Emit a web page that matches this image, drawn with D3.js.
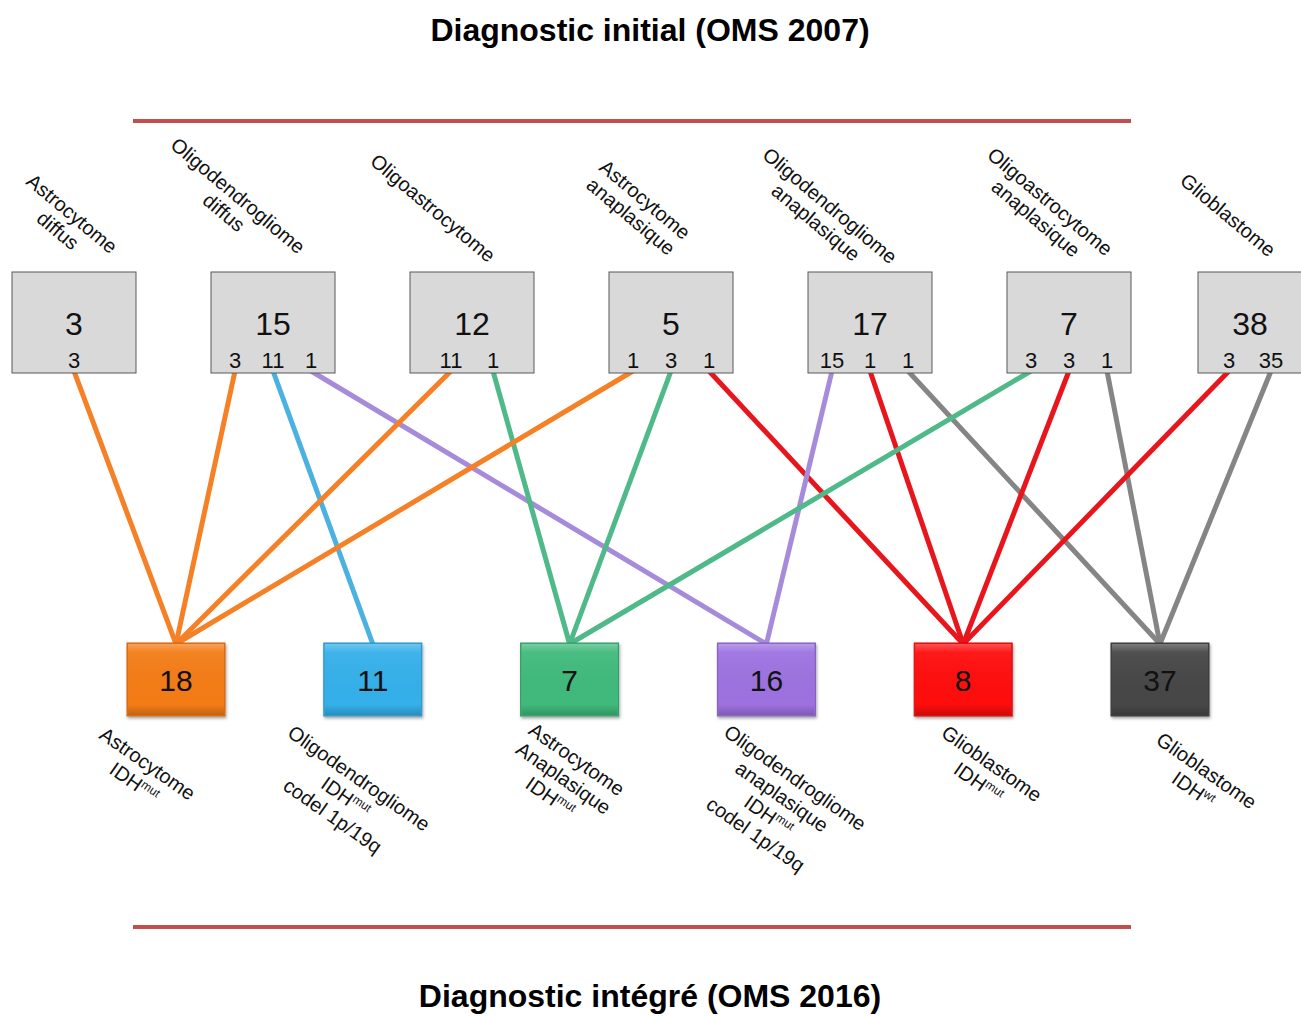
<!DOCTYPE html>
<meta charset="utf-8">
<style>
body { margin: 0; background: #fff; }
svg { display: block; font-family: "Liberation Sans", Arial, sans-serif; }
.title { font-weight: bold; font-size: 32px; fill: #000; }
.rule { stroke: #c0504d; stroke-width: 4px; }
.topbox { fill: #d9d9d9; stroke: #595959; stroke-width: 1px; }
.big { font-size: 32px; fill: #111; }
.small { font-size: 22px; fill: #111; }
.lab { font-size: 20px; fill: #111; }
.flow { fill: none; stroke-width: 5px; }
</style>
<body>
<script src="https://d3js.org/d3.v7.min.js"></script>
<script>

// ---- data ----
var titleTop = "Diagnostic initial (OMS 2007)";
var titleBottom = "Diagnostic intégré (OMS 2016)";

var topNames = [
  ["Astrocytome", "diffus"],
  ["Oligodendrogliome", "diffus"],
  ["Oligoastrocytome"],
  ["Astrocytome", "anaplasique"],
  ["Oligodendrogliome", "anaplasique"],
  ["Oligoastrocytome", "anaplasique"],
  ["Glioblastome"]
];
var topTotals = [3, 15, 12, 5, 17, 7, 38];

var bottomNames = [
  ["Astrocytome", "IDH^mut"],
  ["Oligodendrogliome", "IDH^mut", "codel 1p/19q"],
  ["Astrocytome", "Anaplasique", "IDH^mut"],
  ["Oligodendrogliome", "anaplasique", "IDH^mut", "codel 1p/19q"],
  ["Glioblastome", "IDH^mut"],
  ["Glioblastome", "IDH^wt"]
];
var bottomTotals = [18, 11, 7, 16, 8, 37];

// flows: initial diagnosis index -> integrated diagnosis index, count
var flowFrom  = [0, 1, 1, 1, 2, 2, 3, 3, 3, 4, 4, 4, 5, 5, 5, 6, 6];
var flowTo    = [0, 0, 1, 3, 0, 2, 0, 2, 4, 3, 4, 5, 2, 4, 5, 4, 5];
var flowCount = [3, 3, 11, 1, 11, 1, 1, 3, 1, 15, 1, 1, 3, 3, 1, 3, 35];

// ---- layout / style ----
var W = 1301, H = 1017;
var boxFill  = ["#f47b12", "#34b0ea", "#3fba7c", "#9d72e0", "#ff1010", "#474747"];
var flowCol  = ["#f58025", "#4ab1e1", "#4fb98a", "#a78bdb", "#e8161c", "#858585"];
var topLabelOff = [[-9, 222], [-42, 204], [-39, 208], [-33, 208], [-47, 214], [-26, 210], [-22, 215]];
var botLabelOff = [[-35, 773], [-27, 797], [-6, 778], [9, 806], [22, 773], [40, 780]];

var topY = 272, topH = 101, topW = 124;
var botY = 643, botH = 73, botW = 98;

var xTop = d3.scalePoint().domain(d3.range(topNames.length)).range([74, 1268]);
var xBot = d3.scalePoint().domain(d3.range(bottomNames.length)).range([176, 1160]);

// last top box is pushed against the page edge
function topCx(i) { return Math.min(xTop(i), W - 51); }
function topBw(i) { return xTop(i) > W - 51 ? 104 : topW; }

var flows = flowFrom.map(function(s, i) {
  return {source: s, target: flowTo[i], value: flowCount[i]};
});
// position of each outgoing count inside its source box
d3.groups(flows, function(d) { return d.source; }).forEach(function(g) {
  var n = g[1].length;
  var r = n === 1 ? [0, 0] : n === 2 ? [-21, 21] : [-38, 38];
  var sub = d3.scalePoint().domain(d3.range(n)).range(r);
  g[1].forEach(function(d, k) { d.dx = sub(k); });
});

var svg = d3.select("body").append("svg")
    .attr("width", W)
    .attr("height", H);

var defs = svg.append("defs");
var grad = defs.append("linearGradient").attr("id", "bevel")
    .attr("x1", 0).attr("y1", 0).attr("x2", 0).attr("y2", 1);
grad.append("stop").attr("offset", "0").attr("stop-color", "#fff").attr("stop-opacity", 0.28);
grad.append("stop").attr("offset", "0.12").attr("stop-color", "#fff").attr("stop-opacity", 0.05);
grad.append("stop").attr("offset", "0.85").attr("stop-color", "#000").attr("stop-opacity", 0.0);
grad.append("stop").attr("offset", "1").attr("stop-color", "#000").attr("stop-opacity", 0.2);
var sh = defs.append("filter").attr("id", "shadow")
    .attr("x", "-10%").attr("y", "-10%").attr("width", "130%").attr("height", "140%");
sh.append("feDropShadow").attr("dx", 1).attr("dy", 2).attr("stdDeviation", 1.5)
    .attr("flood-color", "#000").attr("flood-opacity", 0.35);

// titles and rules
svg.append("text").attr("class", "title")
    .attr("x", 650).attr("y", 41).attr("text-anchor", "middle").text(titleTop);
svg.append("text").attr("class", "title")
    .attr("x", 650).attr("y", 1007).attr("text-anchor", "middle").text(titleBottom);
[121, 927].forEach(function(y) {
  svg.append("line").attr("class", "rule")
      .attr("x1", 133).attr("x2", 1131).attr("y1", y).attr("y2", y);
});

// flows (under the boxes)
svg.append("g").selectAll("line")
  .data(flows)
  .enter().append("line")
    .attr("class", "flow")
    .attr("x1", function(d) { return topCx(d.source) + d.dx; })
    .attr("y1", topY + topH - 2)
    .attr("x2", function(d) { return xBot(d.target); })
    .attr("y2", botY + 1)
    .style("stroke", function(d) { return flowCol[d.target]; });

// top boxes
var tb = svg.append("g").selectAll("g")
  .data(topTotals)
  .enter().append("g");
tb.append("rect").attr("class", "topbox")
    .attr("x", function(d, i) { return topCx(i) - topBw(i) / 2; })
    .attr("y", topY)
    .attr("width", function(d, i) { return topBw(i); })
    .attr("height", topH);
tb.append("text").attr("class", "big")
    .attr("x", function(d, i) { return topCx(i); })
    .attr("y", topY + 63)
    .attr("text-anchor", "middle")
    .text(function(d) { return d; });

svg.append("g").selectAll("text")
  .data(flows)
  .enter().append("text")
    .attr("class", "small")
    .attr("x", function(d) { return topCx(d.source) + d.dx; })
    .attr("y", topY + 96)
    .attr("text-anchor", "middle")
    .text(function(d) { return d.value; });

// top labels
svg.append("g").selectAll("g")
  .data(topNames)
  .enter().append("g")
    .attr("transform", function(d, i) {
      return "translate(" + (topCx(i) + topLabelOff[i][0]) + "," + topLabelOff[i][1] + ")rotate(40)";
    })
  .each(function(lines) {
    var g = d3.select(this);
    lines.forEach(function(t, k) {
      g.append("text").attr("class", "lab")
          .attr("text-anchor", "middle")
          .attr("y", (k - (lines.length - 1) / 2) * 22 + 7)
          .text(t);
    });
  });

// bottom boxes
var bb = svg.append("g").selectAll("g")
  .data(bottomTotals)
  .enter().append("g");
bb.append("rect")
    .attr("x", function(d, i) { return xBot(i) - botW / 2; })
    .attr("y", botY)
    .attr("width", botW)
    .attr("height", botH)
    .attr("filter", "url(#shadow)")
    .style("fill", function(d, i) { return boxFill[i]; })
    .style("stroke", function(d, i) { return d3.color(boxFill[i]).darker(0.6); })
    .style("stroke-width", 1);
bb.append("rect")
    .attr("x", function(d, i) { return xBot(i) - botW / 2 + 1; })
    .attr("y", botY + 1)
    .attr("width", botW - 2)
    .attr("height", botH - 2)
    .style("fill", "url(#bevel)");
bb.append("text")
    .attr("x", function(d, i) { return xBot(i); })
    .attr("y", botY + botH / 2 + 11)
    .attr("text-anchor", "middle")
    .style("font-size", "30px")
    .style("fill", "#111")
    .text(function(d) { return d; });

// bottom labels
svg.append("g").selectAll("g")
  .data(bottomNames)
  .enter().append("g")
    .attr("transform", function(d, i) {
      return "translate(" + (xBot(i) + botLabelOff[i][0]) + "," + botLabelOff[i][1] + ")rotate(35)";
    })
  .each(function(lines) {
    var g = d3.select(this);
    lines.forEach(function(t, k) {
      var txt = g.append("text").attr("class", "lab")
          .attr("text-anchor", "middle")
          .attr("y", (k - (lines.length - 1) / 2) * 23 + 7);
      var parts = t.split("^");
      txt.append("tspan").text(parts[0]);
      if (parts[1]) {
        txt.append("tspan").attr("dy", -7).style("font-size", "12px").text(parts[1]);
      }
    });
  });

</script>
</body>
